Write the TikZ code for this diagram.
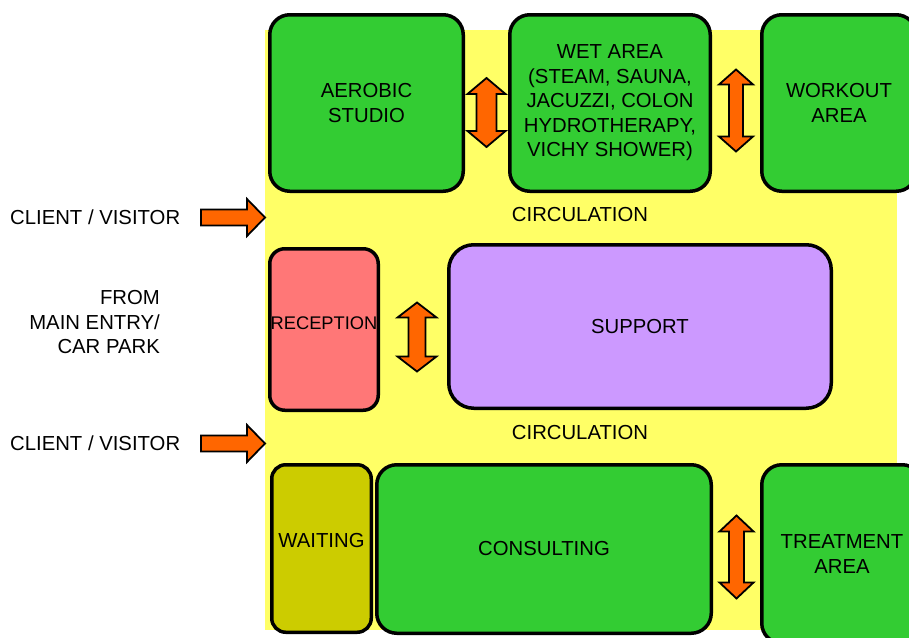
\documentclass[tikz,border=0pt]{standalone}
\usepackage{fontspec}
\setmainfont{Liberation Sans}
\usetikzlibrary{calc}
\definecolor{roomgreen}{HTML}{33CC33}
\definecolor{circyellow}{HTML}{FFFF66}
\definecolor{recpink}{HTML}{FF7777}
\definecolor{suplilac}{HTML}{CC99FF}
\definecolor{waitolive}{HTML}{CCCC00}
\definecolor{arroworange}{HTML}{FF6600}
% vertical double block arrow: centre, half length, half shaft, half head, head length
\newcommand\vdarrow[5]{%
  \draw[blockarrow] ($(#1)+(0,-#2)$) -- ($(#1)+(#4,-#2+#5)$) -- ($(#1)+(#3,-#2+#5)$)
    -- ($(#1)+(#3,#2-#5)$) -- ($(#1)+(#4,#2-#5)$) -- ($(#1)+(0,#2)$)
    -- ($(#1)+(-#4,#2-#5)$) -- ($(#1)+(-#3,#2-#5)$) -- ($(#1)+(-#3,-#2+#5)$)
    -- ($(#1)+(-#4,-#2+#5)$) -- cycle;}
% horizontal block arrow pointing right: tip, length, half shaft, half head, head length
\newcommand\hrarrow[5]{%
  \draw[blockarrow] (#1) -- ++(-#5,-#4) -- ++(0,#4-#3) -- ++(-#2+#5,0) -- ++(0,2*#3)
    -- ++(#2-#5,0) -- ++(0,#4-#3) -- cycle;}
\begin{document}
\begin{tikzpicture}[x=1pt,y=-1pt,
  font=\fontsize{20.3}{24.5}\selectfont,
  room/.style={draw=black, line width=3.5pt, rounded corners=20pt, inner sep=0pt,
    outer sep=0pt, align=center, fill=roomgreen},
  txt/.style={inner sep=0pt, align=center},
  blockarrow/.style={draw=black, line width=1.8pt, fill=arroworange, line join=miter}]
\useasboundingbox (0,0) rectangle (909,637);
\clip (0,0) rectangle (909,637);
% circulation background
\node (circ) [fill=circyellow, inner sep=0pt, outer sep=0pt, minimum width=632pt,
  minimum height=600pt, anchor=north west] at (265,30) {};
% rooms
\node (aer) [room, minimum width=193.5pt, minimum height=176.5pt] at (366.5,103) {AEROBIC\\STUDIO};
\node (wet) [room, minimum width=200.5pt, minimum height=176.5pt] at (610,103)
  {WET AREA\\(STEAM, SAUNA,\\JACUZZI, COLON\\HYDROTHERAPY,\\VICHY SHOWER)};
\node (work) [room, minimum width=154.5pt, minimum height=176.5pt] at (839,103) {WORKOUT\\AREA};
\node (rec) [room, fill=recpink, rounded corners=15pt, minimum width=108.5pt,
  minimum height=161.5pt, label={[txt, font=\fontsize{18.3}{22}\selectfont, yshift=6pt]center:RECEPTION}]
  at (324,329.5) {};
\node (sup) [room, fill=suplilac, rounded corners=25pt, minimum width=382.5pt,
  minimum height=163.5pt] at (640,326.5) {SUPPORT};
\node (wait) [room, fill=waitolive, rounded corners=14pt, minimum width=99.5pt,
  minimum height=167.5pt, label={[txt, yshift=8pt]center:WAITING}] at (321.5,548.5) {};
\node (cons) [room, minimum width=334.5pt, minimum height=168.5pt] at (544,549) {CONSULTING};
\node (treat) [room, minimum width=160.5pt, minimum height=178.5pt] at (842,554) {TREATMENT\\AREA};
% circulation labels
\node (c1) [txt] at (580,215) {CIRCULATION};
\node (c2) [txt] at (580,433) {CIRCULATION};
% outside texts
\node (cv1) [txt, anchor=west] at (10,217.5) {CLIENT / VISITOR};
\node (cv2) [txt, anchor=west] at (10,443.5) {CLIENT / VISITOR};
\node (from) [txt, align=right, anchor=east] at (160,322.5) {FROM\\MAIN ENTRY/\\CAR PARK};
% entry arrows
\coordinate (t1) at (circ.west |- cv1.west);
\coordinate (t2) at (circ.west |- cv2.west);
\hrarrow{t1}{64}{8}{18.5}{18}
\hrarrow{t2}{64}{8}{18.5}{18}
% relation arrows between rooms
\coordinate (a1) at ($(aer.east)!0.5!(wet.west)+(0,9.5)$);
\coordinate (a2) at ($(wet.east)!0.5!(work.west)+(0,7.5)$);
\coordinate (a3) at ($(rec.east)!0.5!(sup.west)+(3.5,9)$);
\coordinate (a4) at ($(cons.east)!0.5!(treat.west)+(0,5.5)$);
\vdarrow{a1}{34.5}{10}{19}{16}
\vdarrow{a2}{41}{7}{17}{15}
\vdarrow{a3}{34.5}{8.5}{19.5}{15}
\vdarrow{a4}{41.5}{7.5}{17}{16}
\end{tikzpicture}
\end{document}
